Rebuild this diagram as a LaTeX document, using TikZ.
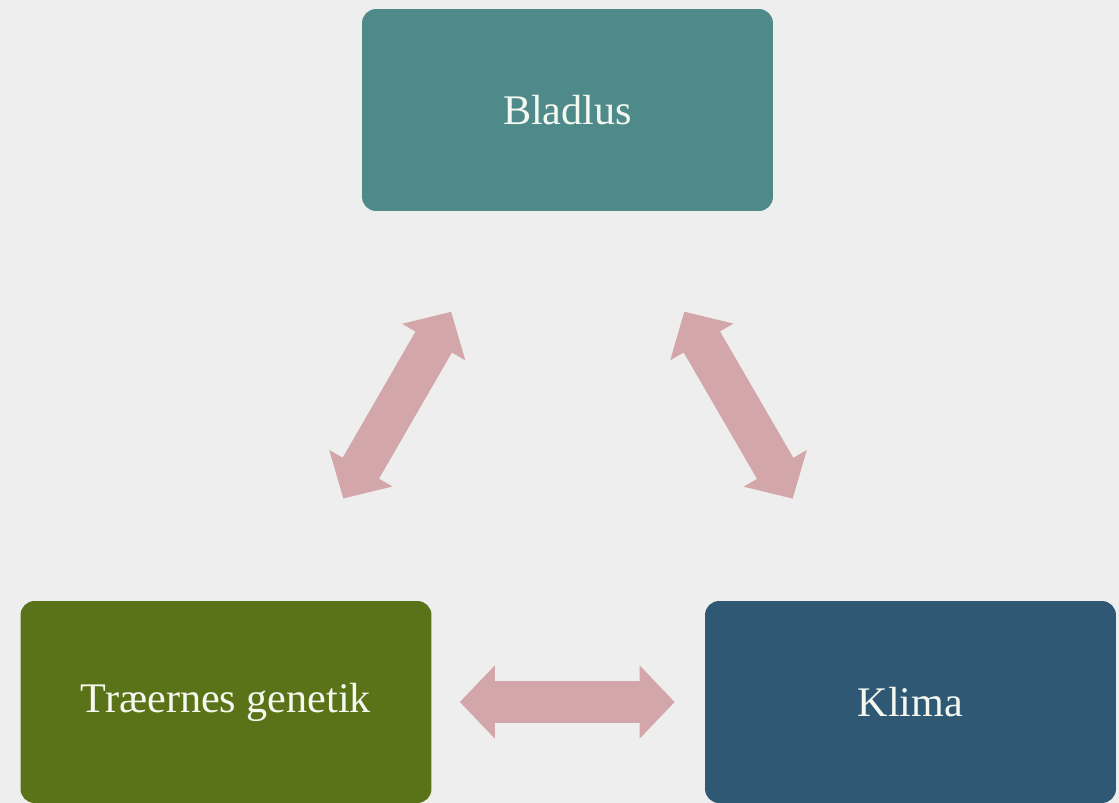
\documentclass[tikz,border=0pt]{standalone}
\usepackage{fontspec}
\setmainfont{Liberation Serif}
\usepackage{tikz}
\usetikzlibrary{arrows.meta, positioning}
\definecolor{bgcol}{HTML}{EEEEEE}
\definecolor{aphidcol}{HTML}{4F8A8B}
\definecolor{genecol}{HTML}{5B7318}
\definecolor{climcol}{HTML}{2F5874}
\definecolor{linkcol}{HTML}{D3A6A9}
\definecolor{txtcol}{HTML}{F4F8F0}
\tikzstyle{factor} = [rectangle, rounded corners=8pt, minimum width=8.22cm, minimum height=4.04cm, align=center, text=txtcol, font=\fontsize{24}{28}\selectfont]
\tikzstyle{link} = [draw=linkcol, line width=0.84cm, {Triangle[length=0.7cm, width=1.42cm]}-{Triangle[length=0.7cm, width=1.42cm]}]

\begin{document}
\begin{tikzpicture}[x=0.02cm, y=-0.02cm]

  % Background
  \fill[bgcol] (0,0) rectangle (1119,803);

  % Top node
  \node (bladlus) at (567.5,110) [factor, fill=aphidcol] {Bladlus};

  % Bottom nodes
  \node (genetik) at (226,702) [factor, fill=genecol] {Træernes genetik};
  \node (klima) at (910.5,702) [factor, fill=climcol] {Klima};

  % Double arrows between the factors
  \draw[link, shorten <=2.36cm, shorten >=2.32cm] (genetik) -- (bladlus);
  \draw[link, shorten <=2.32cm, shorten >=2.36cm] (bladlus) -- (klima);
  \draw[link, shorten <=0.56cm, shorten >=0.6cm] (genetik) -- (klima);

\end{tikzpicture}
\end{document}
